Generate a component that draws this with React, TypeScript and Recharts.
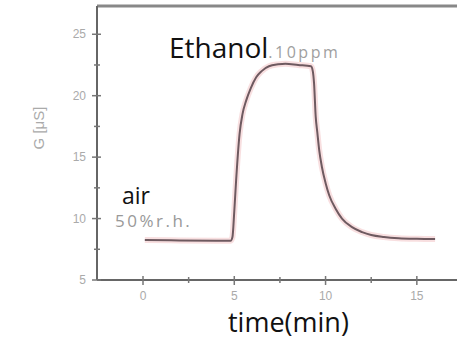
import React from 'react';
import { LineChart, Line, XAxis, YAxis, ReferenceLine } from 'recharts';

const timeMin = [0.1, 2.0, 4.0, 4.8, 4.9, 5.0, 5.1, 5.29, 5.45, 5.65, 5.9, 6.2, 6.5, 6.9, 7.4, 7.8, 8.5, 9.2, 9.3, 9.37, 9.46, 9.55, 9.65, 9.8, 10.0, 10.2, 10.55, 10.9, 11.45, 12.0, 12.5, 13.2, 14.0, 15.0, 16.0];
const conductance = [8.25, 8.22, 8.2, 8.2, 8.5, 10.6, 13.1, 16.9, 18.5, 19.6, 20.6, 21.5, 22.0, 22.4, 22.55, 22.6, 22.5, 22.4, 22.0, 21.0, 18.3, 17.0, 15.6, 14.2, 12.9, 11.9, 10.8, 10.0, 9.3, 8.9, 8.66, 8.5, 8.4, 8.35, 8.33];
const xTicks = [0, 2.5, 5, 7.5, 10, 12.5, 15];
const yTicks = [5, 7.5, 10, 12.5, 15, 17.5, 20, 22.5, 25];

const data = timeMin.map((t, i) => ({ t, g: conductance[i] }));

const AXIS_X = 97; // plot left edge (y axis line)
const AXIS_Y = 280; // plot bottom edge (x axis line)
const tickFont = 'Liberation Sans, Arial, sans-serif';

const XTick = (props: any) => {
  const { x, payload } = props;
  const v = payload.value as number;
  const major = v % 5 === 0;
  return (
    <g>
      <line x1={x} x2={x} y1={AXIS_Y - (major ? 4 : 3)} y2={AXIS_Y + (major ? 5 : 3)} stroke="#777" strokeWidth={1.5} />
      {major && (
        <text x={x} y={AXIS_Y + 20} textAnchor="middle" fontSize={12} fill="#aaa" fontFamily={tickFont}>
          {v}
        </text>
      )}
    </g>
  );
};

const YTick = (props: any) => {
  const { y, payload } = props;
  const v = payload.value as number;
  const major = v % 5 === 0;
  return (
    <g>
      <line x1={AXIS_X - (major ? 5 : 3)} x2={AXIS_X + (major ? 4 : 3)} y1={y} y2={y} stroke="#777" strokeWidth={1.5} />
      {major && (
        <text x={AXIS_X - 11} y={y + 4} textAnchor="end" fontSize={12} fill="#aaa" fontFamily={tickFont}>
          {v}
        </text>
      )}
    </g>
  );
};

export default function App() {
  return (
    <div style={{ position: 'absolute', left: 0, top: 0, width: 457, height: 341, background: '#fff' }}>
      <LineChart width={457} height={341} data={data} margin={{ top: 6, right: 0, left: 0, bottom: 0 }}>
        <XAxis
          dataKey="t"
          type="number"
          domain={[-2.52, 17.2]}
          ticks={xTicks}
          height={61}
          allowDataOverflow
          stroke="#666"
          strokeWidth={2}
          tickLine={false}
          tick={<XTick />}
        />
        <YAxis
          type="number"
          domain={[5, 27.3]}
          ticks={yTicks}
          width={97}
          allowDataOverflow
          stroke="#666"
          strokeWidth={2}
          tickLine={false}
          tick={<YTick />}
        />
        <ReferenceLine y={27.3} stroke="#888" strokeWidth={3} />
        <Line dataKey="g" type="monotone" stroke="#f4c9cc" strokeWidth={6} strokeOpacity={0.6} dot={false} isAnimationActive={false} />
        <Line dataKey="g" type="monotone" stroke="#6e5a60" strokeWidth={2} dot={false} isAnimationActive={false} />
      </LineChart>
      <svg width={60} height={341} style={{ position: 'absolute', left: 0, top: 0, pointerEvents: 'none' }}>
        <text x={44} y={128} transform="rotate(-90 44 128)" textAnchor="middle" fontSize={15} fill="#aaa" fontFamily={tickFont}>
          G [{'\u03bc'}S]
        </text>
      </svg>
      <div style={{ position: 'absolute', left: 169, top: 34, fontFamily: 'Open Sans, sans-serif', fontSize: 28, color: '#111', lineHeight: '27px', whiteSpace: 'nowrap' }}>
        Ethanol<span style={{ fontSize: 16, color: '#a0a0a0', letterSpacing: 2.5 }}>.10ppm</span>
      </div>
      <div style={{ position: 'absolute', left: 122, top: 184, fontFamily: 'Open Sans, sans-serif', fontSize: 23, color: '#111', lineHeight: '22px' }}>
        air
      </div>
      <div style={{ position: 'absolute', left: 115, top: 212, fontFamily: 'Open Sans, sans-serif', fontSize: 17, color: '#999', lineHeight: '17px', letterSpacing: 2.5, whiteSpace: 'nowrap' }}>
        50%r.h.
      </div>
      <div style={{ position: 'absolute', left: 228, top: 308, fontFamily: 'Open Sans, sans-serif', fontSize: 27, color: '#111', lineHeight: '27px', whiteSpace: 'nowrap' }}>
        time(min)
      </div>
    </div>
  );
}
